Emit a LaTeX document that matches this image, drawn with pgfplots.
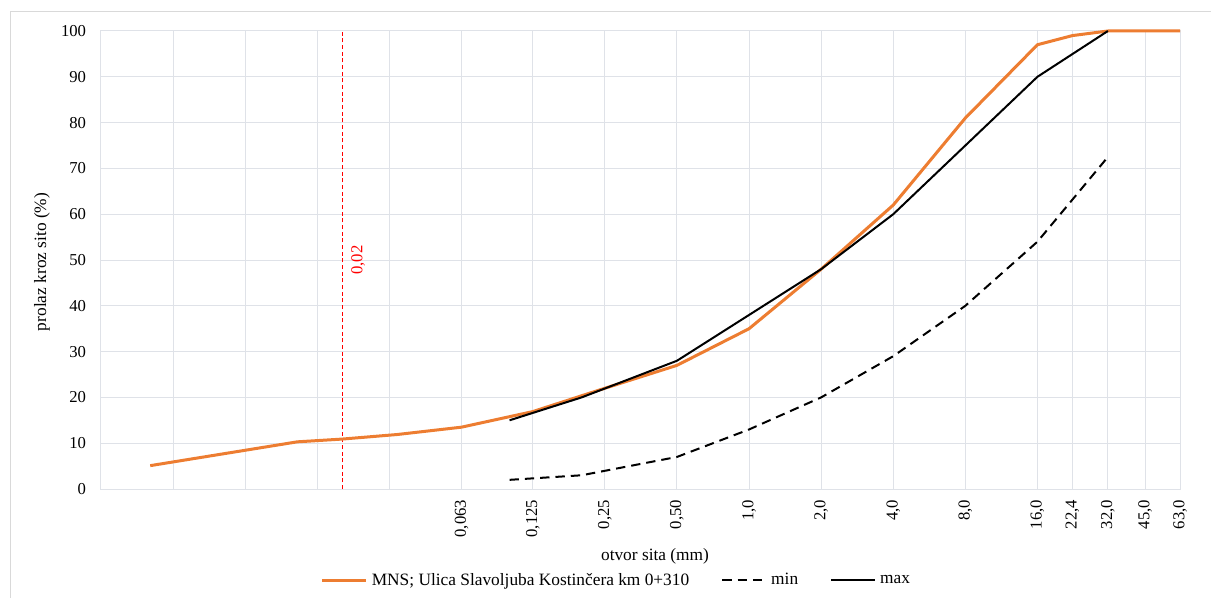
\documentclass[border=0pt]{standalone}
\usepackage{fontspec}
\setmainfont{Liberation Serif}
\usepackage{pgfplots}
\pgfplotsset{compat=1.18}
\definecolor{gridc}{HTML}{DFE2E8}
\definecolor{orangec}{HTML}{ED7D31}
\definecolor{framec}{HTML}{D9D9D9}
\begin{document}
\begin{tikzpicture}[x=0.75pt,y=0.75pt]
\useasboundingbox (0,0) rectangle (1211,597);
\draw[framec, line width=0.75pt] (10,585) rectangle (1240,-20);
\begin{axis}[
  at={(75.75pt,81pt)}, anchor=south west,
  scale only axis, width=809.25pt, height=343.5pt,
  xmode=log, xmin=0.00196875, xmax=63, ymin=0, ymax=100,
  ytick={0,10,...,100},
  xtick={0.063,0.125,0.25,0.5,1,2,4,8,16,22.4,31.5,45,63},
  xticklabels={{0,063},{0,125},{0,25},{0,50},{1,0},{2,0},{4,0},{8,0},{16,0},{22,4},{32,0},{45,0},{63,0}},
  minor xtick={0.0039375,0.007875,0.01575,0.0315},
  xmajorgrids, xminorgrids, ymajorgrids,
  grid style={gridc, line width=0.75pt},
  minor grid style={gridc, line width=0.75pt},
  axis line style={gridc, line width=0.75pt},
  major tick length=0pt, minor tick length=0pt,
  tick style={draw=none},
  xticklabel style={rotate=90, anchor=east, inner sep=0pt, font=\fontsize{12.5}{14}\selectfont},
  xticklabel shift=8pt,
  yticklabel style={anchor=east, inner sep=0pt, font=\fontsize{12.5}{14}\selectfont},
  yticklabel shift=11pt,
  /pgf/number format/assume math mode=true,
  clip=false,
  legend style={at={(0.478,-0.199)}, anchor=center, draw=none, fill=none,
    font=\fontsize{13}{15}\selectfont, inner sep=0pt,
    /tikz/every odd column/.append style={column sep=1pt},
    /tikz/every even column/.append style={column sep=22pt}},
  legend columns=3,
  legend cell align=left,
  legend image code/.code={\draw[#1] (0pt,0pt) -- (33pt,0pt);},
]
\addplot[red, line width=0.9pt, dash pattern=on 3pt off 2pt, forget plot] coordinates {(0.02,0) (0.02,100)};
\addplot[orangec, line width=2.25pt, line join=round] coordinates {
(0.00316,5.1) (0.0130,10.3) (0.02,10.9) (0.034,11.9) (0.063,13.5) (0.125,16.9) (0.25,22.0) (0.5,27.0) (1,35.0) (2,48.0) (4,62.0) (8,81.0) (16,97.0) (22.4,99.0) (31.5,100) (45,100) (63,100)};
\addlegendentry{MNS; Ulica Slavoljuba Kostinčera km 0+310}
\addplot[black, line width=1.5pt, dash pattern=on 7pt off 4.5pt, line join=round] coordinates {
(0.1,2) (0.2,3) (0.5,7) (1,13) (2,20) (4,29) (8,40) (16,54) (31.5,72.5)};
\addlegendentry{min}
\addplot[black, line width=1.5pt, line join=round] coordinates {
(0.1,15) (0.2,20) (0.5,28) (1,38) (2,48) (4,60) (8,75) (16,90) (31.5,100)};
\addlegendentry{max}
\node[red, rotate=90, font=\fontsize{12.5}{14}\selectfont] at ([xshift=12pt]axis cs:0.02,50) {0,02};
\end{axis}
\node[rotate=90, font=\fontsize{13}{15}\selectfont] at (42,335) {prolaz kroz sito (\%)};
\node[font=\fontsize{13}{15}\selectfont] at (655,41) {otvor sita (mm)};
\end{tikzpicture}
\end{document}
